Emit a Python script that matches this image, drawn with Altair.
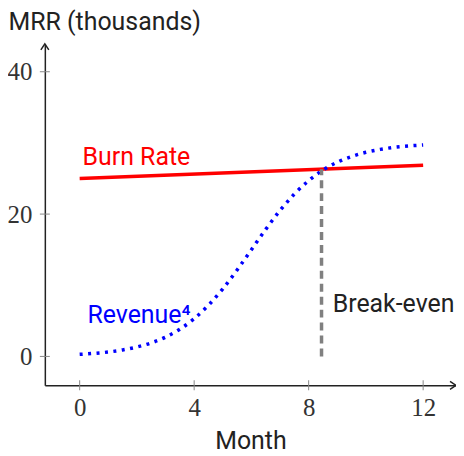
import altair as alt
import pandas as pd

# ---- data ----
rev_month = [0, 0.5, 1, 1.5, 2, 2.5, 3, 3.5, 4, 4.5, 5, 5.5, 6, 6.5, 7, 7.5, 8, 8.5, 9, 9.5, 10, 10.5, 11, 11.5, 12]
rev_value = [0.29, 0.43, 0.62, 0.91, 1.32, 1.90, 2.71, 3.82, 5.30, 7.19, 9.49, 12.15, 15.0, 17.85, 20.51, 22.81,
             24.70, 26.18, 27.29, 28.09, 28.68, 29.09, 29.38, 29.57, 29.71]
burn_month = [0, 12]
burn_value = [25.0, 26.85]
be_month = [8.45, 8.45]
be_value = [0, 26.3]
x_ticks = [0, 4, 8, 12]
y_ticks = [0, 20, 40]
labels_text = ["Burn Rate", "Revenue\u2074", "Break-even"]
labels_x = [0.1, 0.27, 8.84]
labels_y = [26.85, 4.76, 6.2]
labels_color = ["#ff0000", "#0000ff", "#222222"]

XDOM = [-1.217, 13.148]
YDOM = [-4.06, 43.92]

xs = alt.Scale(domain=XDOM, nice=False, zero=False)
ys = alt.Scale(domain=YDOM, nice=False, zero=False)

rev = pd.DataFrame({"m": rev_month, "v": rev_value})
burn = pd.DataFrame({"m": burn_month, "v": burn_value})
be = pd.DataFrame({"m": be_month, "v": be_value})
lab = pd.DataFrame({"t": labels_text, "m": labels_x, "v": labels_y, "c": labels_color})
xt = pd.DataFrame({"m": x_ticks, "v": [YDOM[0]] * len(x_ticks)})
yt = pd.DataFrame({"m": [XDOM[0]] * len(y_ticks), "v": y_ticks})
arrow_x = pd.DataFrame({"m": [XDOM[1]], "v": [YDOM[0]]})
arrow_y = pd.DataFrame({"m": [XDOM[0]], "v": [YDOM[1]]})

SANS = 25

xaxis = alt.Axis(values=x_ticks, grid=False, domainColor="#222", domainWidth=1.5,
                 ticks=False, tickSize=0,
                 labelFont="Liberation Serif", labelFontSize=25, labelColor="#333",
                 labelBaseline="alphabetic", labelPadding=30, labelFlush=False,
                 title="Month", titleFont="Roboto", titleFontSize=SANS, titleFontWeight="normal",
                 titleColor="#222", titleY=63, titleBaseline="alphabetic")
yaxis = alt.Axis(values=y_ticks, grid=False, domainColor="#222", domainWidth=1.5,
                 ticks=False, tickSize=0,
                 labelFont="Liberation Serif", labelFontSize=25, labelColor="#333",
                 labelPadding=13, labelFlush=False,
                 title="MRR (thousands)", titleFont="Roboto", titleFontSize=SANS, titleFontWeight="normal",
                 titleColor="#222", titleAngle=0, titleAlign="left", titleBaseline="alphabetic",
                 titleX=-37, titleY=-14)

base_burn = alt.Chart(burn).mark_line(color="#ff0000", strokeWidth=3.5).encode(
    x=alt.X("m:Q", scale=xs, axis=xaxis),
    y=alt.Y("v:Q", scale=ys, axis=yaxis),
)
revenue = alt.Chart(rev).mark_line(color="#0000ff", strokeWidth=3.5, strokeDash=[3, 5.5],
                                   interpolate="monotone").encode(
    x=alt.X("m:Q", scale=xs), y=alt.Y("v:Q", scale=ys))
breakeven = alt.Chart(be).mark_line(color="#808080", strokeWidth=3.5, strokeDash=[8, 5]).encode(
    x=alt.X("m:Q", scale=xs), y=alt.Y("v:Q", scale=ys))
xticks = alt.Chart(xt).mark_tick(orient="vertical", size=10, thickness=1, color="#888", opacity=1).encode(
    x=alt.X("m:Q", scale=xs), y=alt.Y("v:Q", scale=ys))
yticks = alt.Chart(yt).mark_tick(orient="horizontal", size=10, thickness=1, color="#888", opacity=1).encode(
    x=alt.X("m:Q", scale=xs), y=alt.Y("v:Q", scale=ys))
texts = alt.Chart(lab).mark_text(font="Roboto", fontSize=SANS, align="left", baseline="alphabetic").encode(
    x=alt.X("m:Q", scale=xs), y=alt.Y("v:Q", scale=ys), text="t:N",
    color=alt.Color("c:N", scale=None))
arrx = alt.Chart(arrow_x).mark_point(shape="M -1.2 -0.8 L 0 0 L -1.2 0.8", size=100, filled=False,
                                     stroke="#222", strokeWidth=1.5, opacity=1).encode(
    x=alt.X("m:Q", scale=xs), y=alt.Y("v:Q", scale=ys))
arry = alt.Chart(arrow_y).mark_point(shape="M -0.8 1.2 L 0 0 L 0.8 1.2", size=100, filled=False,
                                     stroke="#222", strokeWidth=1.5, opacity=1).encode(
    x=alt.X("m:Q", scale=xs), y=alt.Y("v:Q", scale=ys))

chart = alt.layer(base_burn, revenue, breakeven, xticks, yticks, texts, arrx, arry).properties(
    width=413, height=343,
    autosize=alt.AutoSizeParams(type="none"),
    padding={"left": 37, "top": 35, "right": 0, "bottom": 70},
).configure_view(stroke=None)

chart.save("out.html", embed_options={"renderer": "svg", "actions": False})
